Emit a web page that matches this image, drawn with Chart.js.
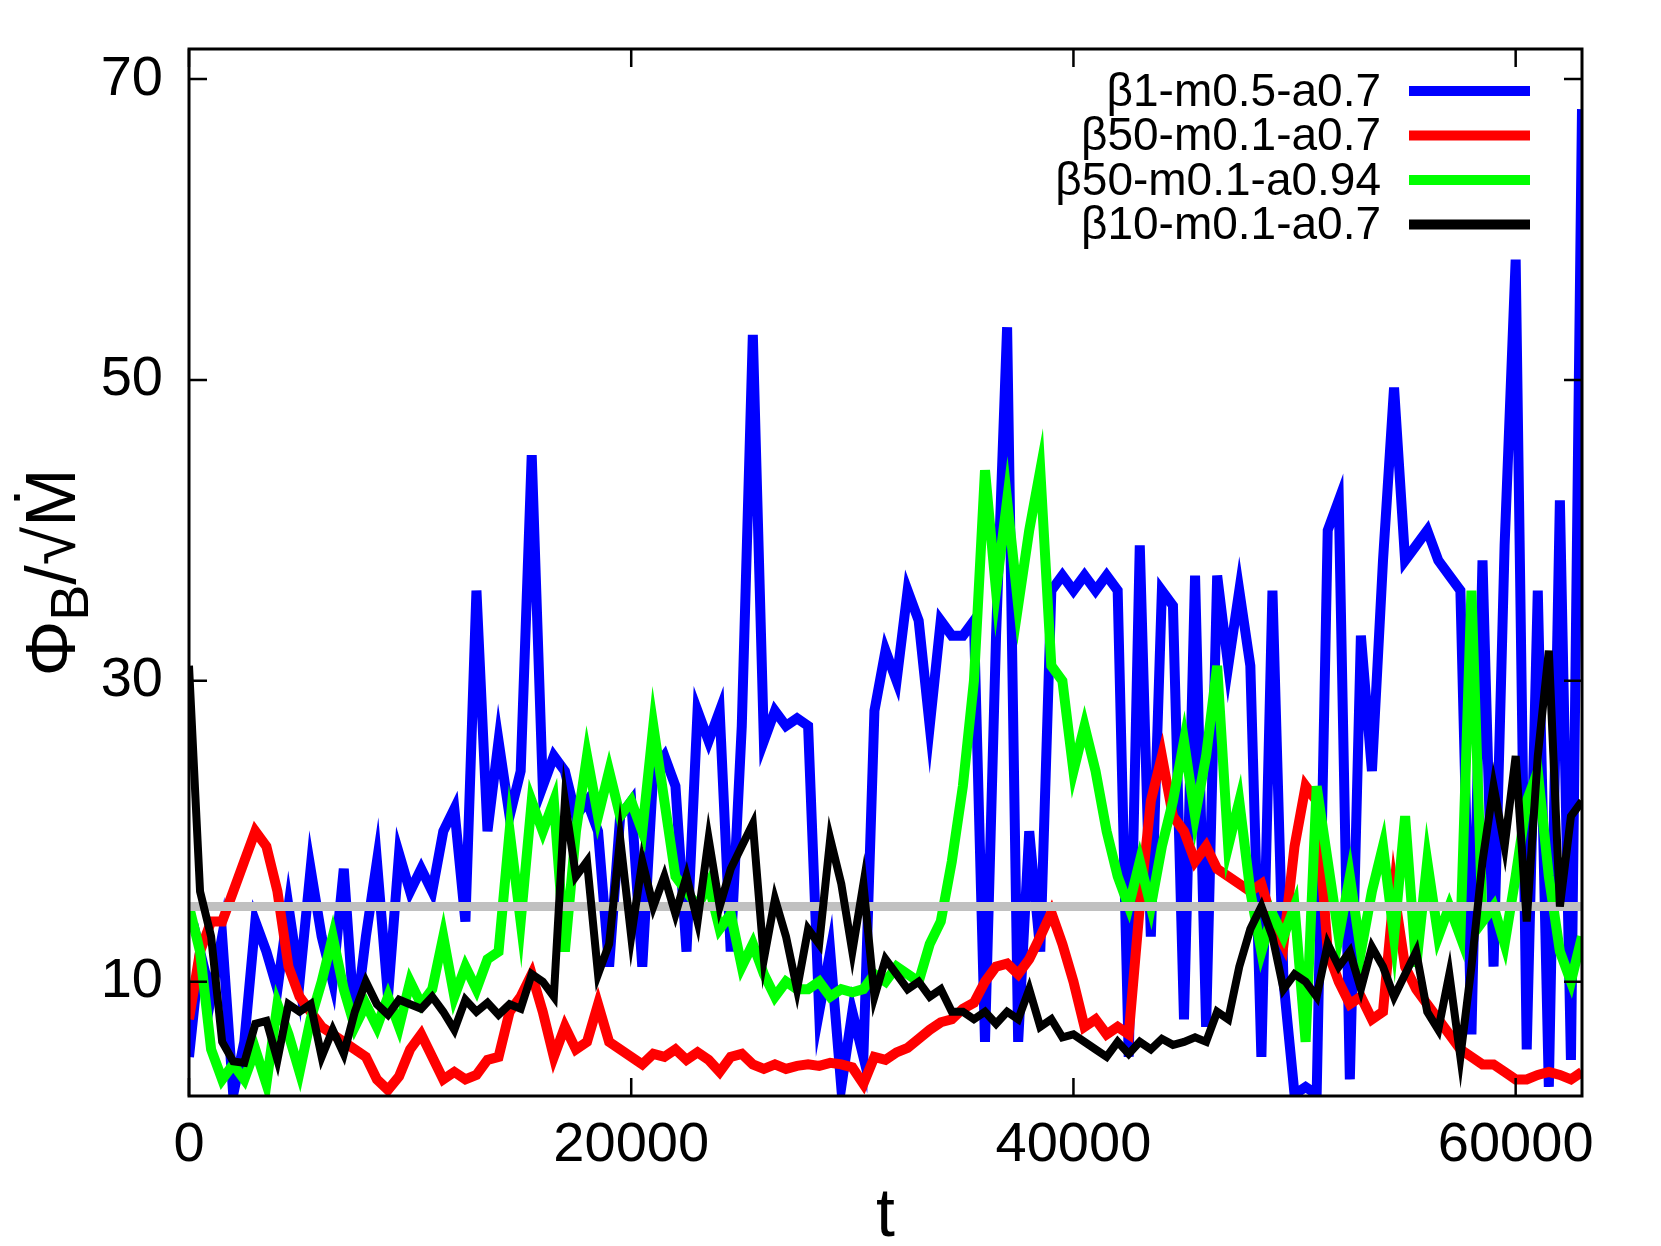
<!DOCTYPE html>
<html lang="en">
<head>
    <meta charset="UTF-8">
    <title>Magnetic flux vs t</title>
    <style>
        body { margin: 0; background: #fff; }
        canvas { display: block; }
    </style>
</head>
<body>
    <canvas id="myChart" width="1661" height="1246"></canvas>

    <script src="https://cdn.jsdelivr.net/npm/chart.js"></script>
    <script>
        // sample times (t)
        const tValues = [
            0, 500, 1000, 1500, 2000, 2500, 3000, 3500, 4000, 4500,
            5000, 5500, 6000, 6500, 7000, 7500, 8000, 8500, 9000, 9500,
            10000, 10500, 11000, 11500, 12000, 12500, 13000, 13500, 14000, 14500,
            15000, 15500, 16000, 16500, 17000, 17500, 18000, 18500, 19000, 19500,
            20000, 20500, 21000, 21500, 22000, 22500, 23000, 23500, 24000, 24500,
            25000, 25500, 26000, 26500, 27000, 27500, 28000, 28500, 29000, 29500,
            30000, 30500, 31000, 31500, 32000, 32500, 33000, 33500, 34000, 34500,
            35000, 35500, 36000, 36500, 37000, 37500, 38000, 38500, 39000, 39500,
            40000, 40500, 41000, 41500, 42000, 42500, 43000, 43500, 44000, 44500,
            45000, 45500, 46000, 46500, 47000, 47500, 48000, 48500, 49000, 49500,
            50000, 50500, 51000, 51500, 52000, 52500, 53000, 53500, 54000, 54500,
            55000, 55500, 56000, 56500, 57000, 57500, 58000, 58500, 59000, 59500,
            60000, 60500, 61000, 61500, 62000, 62500, 63000
        ];

        const labels = ['β1-m0.5-a0.7', 'β50-m0.1-a0.7', 'β50-m0.1-a0.94', 'β10-m0.1-a0.7'];

        const beta1 = [
            5, 12, 9, 13, 2.5, 6, 14, 12, 9.5, 15,
            10, 17.5, 13, 10, 17.5, 7, 13, 18, 9, 18.5,
            16, 17.5, 16, 20, 21.5, 14, 36, 20, 26, 21,
            24, 45, 23, 25, 24, 21, 22, 20, 11, 21,
            22, 11, 24, 25, 23, 12, 28, 26, 28, 12,
            27, 53, 26, 28, 27, 27.5, 27, 8, 12, 3,
            8, 5, 28, 32, 30, 36, 34, 27, 34, 33,
            33, 34, 6, 33, 53.5, 6, 20, 12, 36, 37,
            36, 37, 36, 37, 36, 5, 39, 13, 36, 35,
            7.5, 37, 7, 37, 31, 36, 31, 5, 36, 10,
            2.5, 3, 2.5, 40, 42, 3.5, 33, 24, 38, 49.5,
            38, 39, 40, 38, 37, 36, 6.5, 38, 11, 39,
            58, 5.5, 36, 3, 42, 4.8, 68
        ];

        const beta50a07 = [
            7.5, 12, 14, 14, 16, 18, 20, 19, 16, 11,
            9, 8, 7, 6.5, 6, 5.5, 5, 3.5, 2.8, 3.7,
            5.5, 6.5, 5, 3.5, 4, 3.5, 3.8, 4.8, 5, 8,
            9, 10.5, 8, 5, 7, 5.5, 6, 8.5, 6, 5.5,
            5, 4.5, 5.2, 5, 5.5, 4.8, 5.3, 4.8, 4, 5,
            5.2, 4.5, 4.2, 4.5, 4.2, 4.4, 4.5, 4.4, 4.6, 4.5,
            4.3, 3.2, 5, 4.8, 5.3, 5.6, 6.2, 6.8, 7.3, 7.5,
            8.2, 8.6, 10, 11, 11.2, 10.5, 11.5, 13, 14.6, 12.5,
            10, 7, 7.5, 6.5, 7, 6.5, 15, 22, 25, 21,
            20, 18, 19, 17.5, 17, 16.5, 16, 16.5, 14, 12.5,
            19, 23, 22, 12, 10, 8.5, 9, 7.5, 8, 16,
            11, 9.5, 8.5, 7.5, 6.5, 5.5, 5, 4.5, 4.5, 4,
            3.5, 3.5, 3.8, 4, 3.8, 3.5, 4
        ];

        const beta50a094 = [
            15, 12, 5.5, 3.5, 4.5, 3.5, 5.5, 3.2, 8.5, 6.5,
            4, 7.5, 10, 13, 9.5, 7, 8.5, 7, 9, 7,
            10, 8.5, 9.5, 13, 9, 11, 9.5, 11.5, 12, 20,
            14, 22, 20, 22, 12, 20, 25, 21, 24, 21,
            22, 20, 27, 22, 17, 16, 15, 16.5, 13.5, 14.5,
            11, 12.5, 10.5, 9, 10, 9.5, 9.5, 10, 9, 9.5,
            9.3, 9.5, 10.5, 10, 11, 10.5, 10, 12.5, 14, 18,
            23, 30, 44, 36, 42, 35, 40, 44, 31, 30,
            24, 27, 24, 20, 17, 15, 18, 15, 19, 22,
            26, 21, 25, 31, 19, 22, 16, 12, 14.5, 13,
            15, 6, 23, 18, 13, 17, 12, 16, 19, 13,
            21, 11, 18, 13, 15, 13, 36, 14, 15, 12.5,
            17, 22, 24, 17, 12, 10, 13
        ];

        const beta10 = [
            31, 16, 13, 6, 4.7, 4.6, 7.2, 7.4, 4.8, 8.5,
            8, 8.5, 5, 6.8, 5.2, 8, 10, 8.5, 7.8, 8.8,
            8.5, 8.2, 9, 8, 6.8, 8.8, 8, 8.6, 7.8, 8.5,
            8.2, 10.5, 10, 9, 22, 17, 18, 10.5, 12.5, 19.5,
            13, 18, 15, 17, 14.5, 17, 14, 19.5, 15, 17.5,
            19, 20.5, 11.5, 15.5, 13, 9.5, 13.5, 12.5, 19.5, 16.5,
            12, 16.5, 9, 11.5, 10.5, 9.5, 10, 9, 9.5, 8,
            8, 7.5, 8, 7.2, 8, 7.5, 9.5, 7, 7.5, 6.3,
            6.5, 6, 5.5, 5, 6, 5.2, 6, 5.5, 6.2, 5.8,
            6, 6.3, 6, 8, 7.5, 11, 13.5, 15, 13, 9.5,
            10.5, 10, 9, 12.5, 11, 12, 9.5, 12.3, 11, 9,
            10.5, 12, 8, 6.8, 10.5, 5, 11, 18, 23, 19,
            25, 14, 25, 32, 15, 21, 22
        ];

        // horizontal reference level
        const refT = [0, 63000];
        const refLevel = [15, 15];

        const xTicks = [0, 20000, 40000, 60000];
        const yTicks = [10, 30, 50, 70];

        const pts = (xs, ys) => xs.map((x, i) => ({ x: x, y: ys[i] }));
        const FONT = '"Liberation Sans", Arial, Helvetica, sans-serif';

        // gnuplot-like frame, inward ticks, legend and axis titles
        const gnuplotLook = {
            id: 'gnuplotLook',
            afterDatasetsDraw(chart) {
                const { ctx, chartArea: a, scales: { x, y } } = chart;
                ctx.save();
                ctx.strokeStyle = '#000';
                ctx.lineWidth = 2.5;
                const tl = 18;
                ctx.beginPath();
                x.ticks.forEach(tk => {
                    const px = x.getPixelForValue(tk.value);
                    ctx.moveTo(px, a.bottom); ctx.lineTo(px, a.bottom - tl);
                    ctx.moveTo(px, a.top); ctx.lineTo(px, a.top + tl);
                });
                y.ticks.forEach(tk => {
                    const py = y.getPixelForValue(tk.value);
                    ctx.moveTo(a.left, py); ctx.lineTo(a.left + tl, py);
                    ctx.moveTo(a.right, py); ctx.lineTo(a.right - tl, py);
                });
                ctx.stroke();
                ctx.lineWidth = 3;
                ctx.strokeRect(a.left, a.top, a.right - a.left, a.bottom - a.top);
                ctx.restore();
            },
            afterDraw(chart) {
                const { ctx, chartArea: a } = chart;
                ctx.save();

                // legend
                ctx.font = '46px ' + FONT;
                ctx.textAlign = 'right';
                ctx.textBaseline = 'middle';
                chart.data.datasets.filter(d => d.label).forEach((d, i) => {
                    const yy = a.top + 42 + i * 44.5;
                    ctx.fillStyle = '#000';
                    ctx.fillText(d.label, a.right - 201, yy + 2);
                    ctx.strokeStyle = d.borderColor;
                    ctx.lineWidth = 10;
                    ctx.beginPath();
                    ctx.moveTo(a.right - 173, yy);
                    ctx.lineTo(a.right - 52, yy);
                    ctx.stroke();
                });

                // x title
                ctx.fillStyle = '#000';
                ctx.textAlign = 'center';
                ctx.textBaseline = 'alphabetic';
                ctx.font = '68px ' + FONT;
                ctx.fillText('t', (a.left + a.right) / 2, a.bottom + 140);

                // y title  Φ_B/√Ṁ
                const big = '70px ' + FONT, small = '54px ' + FONT;
                ctx.font = big;
                const w1 = ctx.measureText('Φ').width;
                const w3 = ctx.measureText('/√Ṁ').width;
                ctx.font = small;
                const w2 = ctx.measureText('B').width;
                const total = w1 + w2 + w3;
                ctx.translate(50, (a.top + a.bottom) / 2);
                ctx.rotate(-Math.PI / 2);
                ctx.textAlign = 'left';
                let cx = -total / 2;
                ctx.font = big;
                ctx.fillText('Φ', cx, 25);
                cx += w1;
                ctx.font = small;
                ctx.fillText('B', cx, 38);
                cx += w2;
                ctx.font = big;
                ctx.fillText('/√Ṁ', cx, 25);

                ctx.restore();
            }
        };

        const ctx = document.getElementById('myChart');

        new Chart(ctx, {
            type: 'line',
            data: {
                datasets: [
                    { label: labels[0], data: pts(tValues, beta1), borderColor: '#0000ff', borderWidth: 10, order: 4 },
                    { label: labels[1], data: pts(tValues, beta50a07), borderColor: '#ff0000', borderWidth: 10, order: 3 },
                    { label: labels[2], data: pts(tValues, beta50a094), borderColor: '#00ff00', borderWidth: 10, order: 2 },
                    { label: labels[3], data: pts(tValues, beta10), borderColor: '#000000', borderWidth: 8, order: 0 },
                    { label: '', data: pts(refT, refLevel), borderColor: '#c0c0c0', borderWidth: 9, order: 1 }
                ]
            },
            options: {
                responsive: false,
                animation: false,
                events: [],
                layout: { padding: { top: 49, right: 79, left: 0, bottom: 0 } },
                elements: {
                    point: { radius: 0 },
                    line: { tension: 0, fill: false }
                },
                plugins: {
                    legend: { display: false },
                    tooltip: { enabled: false }
                },
                scales: {
                    x: {
                        type: 'linear',
                        min: 0,
                        max: 63000,
                        grid: { display: false, drawTicks: false },
                        border: { display: false },
                        afterBuildTicks: s => { s.ticks = xTicks.map(v => ({ value: v })); },
                        afterFit: s => {
                            s.height = 150;
                            s.paddingLeft = 0; s.paddingRight = 0;
                        },
                        ticks: {
                            autoSkip: false,
                            maxRotation: 0,
                            padding: 16,
                            color: '#000',
                            font: { family: FONT, size: 56 },
                            callback: v => String(v)
                        }
                    },
                    y: {
                        min: 2.4,
                        max: 72,
                        grid: { display: false, drawTicks: false },
                        border: { display: false },
                        afterBuildTicks: s => { s.ticks = yTicks.map(v => ({ value: v })); },
                        afterFit: s => {
                            s.width = 189;
                            s.paddingTop = 0; s.paddingBottom = 0;
                        },
                        ticks: {
                            padding: 26,
                            color: '#000',
                            font: { family: FONT, size: 56 },
                            callback: v => String(v)
                        }
                    }
                }
            },
            plugins: [gnuplotLook]
        });
    </script>
</body>
</html>
